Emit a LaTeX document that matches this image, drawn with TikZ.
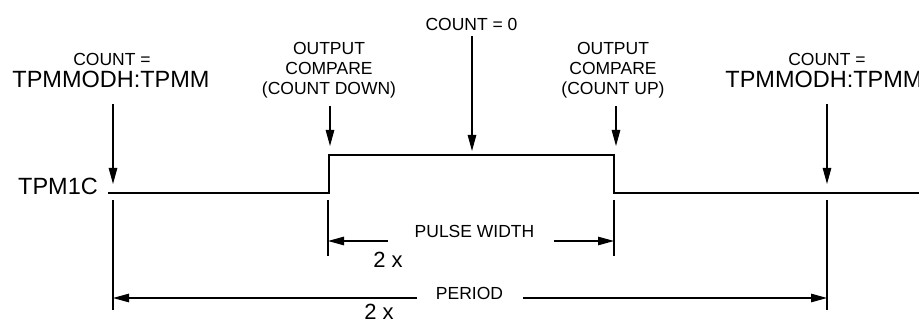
\documentclass[tikz,border=0pt]{standalone}
\usepackage{fontspec}
\setmainfont{Liberation Sans}
\usetikzlibrary{arrows.meta}

\begin{document}
\begin{tikzpicture}[x=1pt,y=-1pt,>={Triangle[length=16pt,width=8.5pt]},
  small/.style={font=\fontsize{17.5}{20}\selectfont,inner sep=0pt,anchor=base},
  big/.style={font=\fontsize{23.5}{26}\selectfont,inner sep=0pt,anchor=base},
  thin/.style={line width=1.1pt},
  wave/.style={line width=2.8pt}]
  \useasboundingbox (0,0) rectangle (919,320);
  \clip (0,0) rectangle (919,320);
  % labels
  \node[big] (tpm) at (58,195) {TPM1C};
  \node[small] (cntl) at (112,66) {COUNT =};
  \node[big] (modl) at (111,87.5) {TPMMODH:TPMM};
  \node[small] (cntr) at (827,66) {COUNT =};
  \node[big] (modr) at (824,87.5) {TPMMODH:TPMM};
  \node[small] (zero) at (471.5,31) {COUNT = 0};
  \foreach \t [count=\i from 0] in {OUTPUT,COMPARE,{(COUNT DOWN)}}{
    \node[small] (ocd\i) at (329,55+20*\i) {\t};}
  \foreach \t [count=\i from 0] in {OUTPUT,COMPARE,{(COUNT UP)}}{
    \node[small] (ocu\i) at (613,55+20*\i) {\t};}
  \node[small] (pw) at (474.5,238) {PULSE WIDTH};
  \node[big,font=\fontsize{22}{24}\selectfont] (pwx) at (388,268) {2 x};
  \node[small] (per) at (469.5,300) {PERIOD};
  \node[big,font=\fontsize{22}{24}\selectfont] (perx) at (379,319.5) {2 x};
  % signal
  \coordinate (s0) at (108,193);
  \coordinate (rise) at (329,193);
  \coordinate (fall) at (614,155);
  \coordinate (s1) at (919,193);
  \draw[wave] (s0) -- (rise) |- (fall) |- (s1);
  % event arrows
  \foreach \n/\x/\ya/\yb in {cl/113/104/184,ocd/330/106/146,cz/472/36/151,ocu/616/106/146,cr/827/104/184}{
    \coordinate (\n1) at (\x,\ya);
    \coordinate (\n2) at (\x,\yb);
    \draw[thin,->] (\n1) -- (\n2);}
  % ticks
  \foreach \n/\x/\yb in {tl/113/310,tpl/328/256,tpr/614/256,tr/827/310}{
    \coordinate (\n1) at (\x,200);
    \coordinate (\n2) at (\x,\yb);
    \draw[thin] (\n1) -- (\n2);}
  % widths
  \coordinate (pwl) at (388,241);
  \coordinate (pwr) at (554,241);
  \coordinate (perl) at (417,298);
  \coordinate (perr) at (523,298);
  \draw[thin,->] (pwl) -- (tpl1 |- pwl);
  \draw[thin,->] (pwr) -- (tpr1 |- pwr);
  \draw[thin,->] (perl) -- (tl1 |- perl);
  \draw[thin,->] (perr) -- (tr1 |- perr);
\end{tikzpicture}
\end{document}
